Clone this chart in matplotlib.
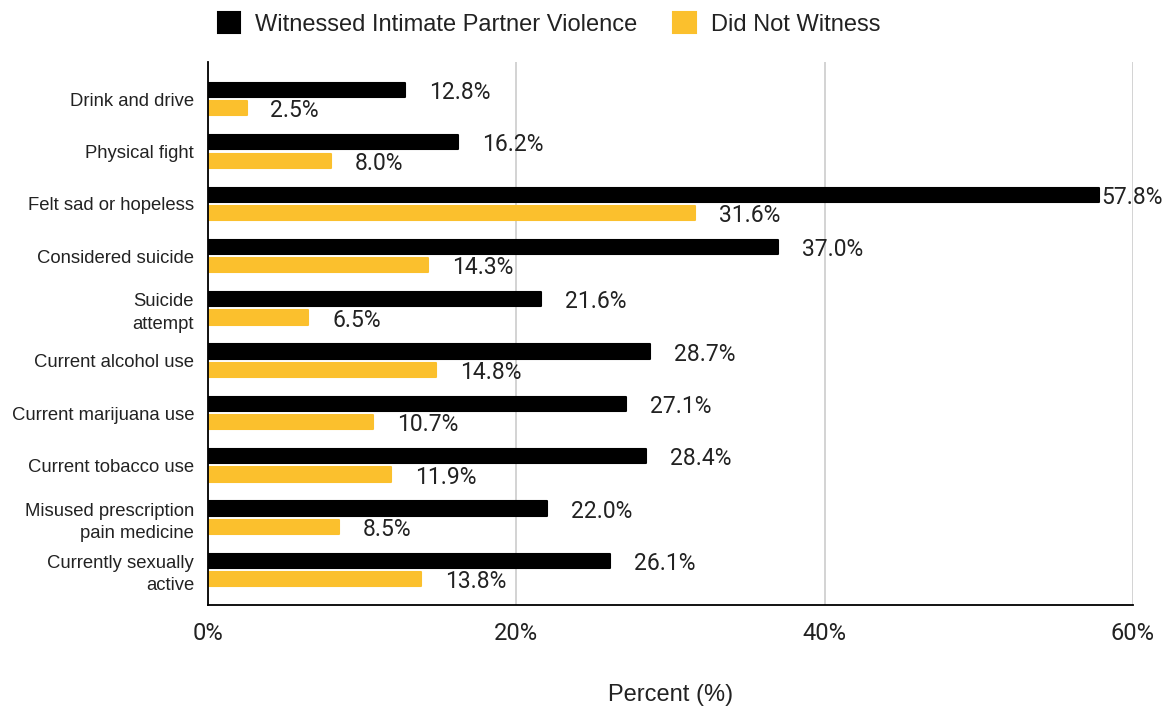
import numpy as np
import matplotlib.pyplot as plt
from matplotlib.patches import Patch

plt.rcParams['font.family'] = ['Roboto', 'DejaVu Sans']
ARIAL = ['Liberation Sans', 'DejaVu Sans']

categories = ["Drink and drive", "Physical fight", "Felt sad or hopeless",
              "Considered suicide", "Suicide\nattempt", "Current alcohol use",
              "Current marijuana use", "Current tobacco use",
              "Misused prescription\npain medicine", "Currently sexually\nactive"]
witnessed = [12.8, 16.2, 57.8, 37.0, 21.6, 28.7, 27.1, 28.4, 22.0, 26.1]
not_witnessed = [2.5, 8.0, 31.6, 14.3, 6.5, 14.8, 10.7, 11.9, 8.5, 13.8]

BLACK = "#000000"
YELLOW = "#FBC02D"
TEXT = "#222222"

fig = plt.figure(figsize=(11.71, 7.08), dpi=100)
ax = fig.add_axes([208 / 1171, 1 - 605 / 708, 925 / 1171, 543 / 708])

y = np.arange(len(categories))
h = 0.27
off = 0.175
ax.barh(y - off, witnessed, height=h, color=BLACK, edgecolor=BLACK,
        linewidth=1.5, joinstyle='round', zorder=3)
ax.barh(y + off, not_witnessed, height=h, color=YELLOW, edgecolor=YELLOW,
        linewidth=1.5, joinstyle='round', zorder=3)

# value labels sit a fixed gap past the bar end, except the long bar near the edge
for yi, v in zip(y, witnessed):
    dx = 0.15 if v > 50 else 1.55
    ax.text(v + dx, yi - off + 0.05, "%.1f%%" % v, va='center', ha='left',
            fontsize=16.5, color=TEXT, zorder=4)
for yi, v in zip(y, not_witnessed):
    ax.text(v + 1.55, yi + off + 0.05, "%.1f%%" % v, va='center', ha='left',
            fontsize=16.5, color=TEXT, zorder=4)

ax.set_xlim(0, 60)
ax.set_ylim(9.67, -0.71)
ax.set_xticks([0, 20, 40, 60])
ax.set_xticklabels(["0%", "20%", "40%", "60%"])
ax.set_yticks(y)
ax.set_yticklabels(categories, fontsize=13.3, color=TEXT, family=ARIAL,
                   linespacing=1.4)
ax.tick_params(axis='x', labelsize=17, colors=TEXT, length=0, pad=12)
ax.tick_params(axis='y', length=0, pad=10)
ax.grid(axis='x', color="#cccccc", linewidth=1.2, zorder=0)
for s in ['top', 'right']:
    ax.spines[s].set_visible(False)
ax.spines['left'].set_linewidth(1.3)
ax.spines['bottom'].set_linewidth(1.3)
ax.spines['left'].set_zorder(5)
ax.set_xlabel("Percent (%)", fontsize=17, color=TEXT, labelpad=28, family=ARIAL)

handles = [Patch(facecolor=BLACK, edgecolor=BLACK, linewidth=1.5, joinstyle='round',
                 label="Witnessed Intimate Partner Violence"),
           Patch(facecolor=YELLOW, edgecolor=YELLOW, linewidth=1.5, joinstyle='round',
                 label="Did Not Witness")]
leg = fig.legend(handles=handles, loc='center', bbox_to_anchor=(549 / 1171, 1 - 24 / 708),
                 ncol=2, frameon=False, prop={'family': ARIAL, 'size': 17},
                 handlelength=0.95, handleheight=0.95, columnspacing=1.5,
                 handletextpad=0.65)
for t in leg.get_texts():
    t.set_color(TEXT)

fig.savefig("out.png", dpi=100)
